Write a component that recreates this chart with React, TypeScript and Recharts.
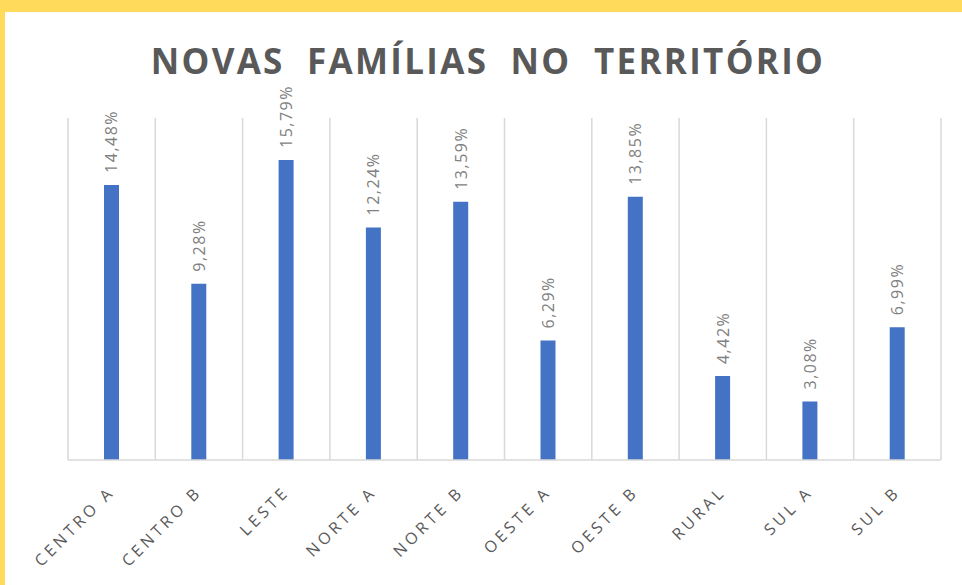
import { BarChart, Bar, XAxis, YAxis, CartesianGrid, LabelList } from "recharts"

// territórios
const territorios = [
  "CENTRO A",
  "CENTRO B",
  "LESTE",
  "NORTE A",
  "NORTE B",
  "OESTE A",
  "OESTE B",
  "RURAL",
  "SUL A",
  "SUL B",
]

// % de novas famílias
const percentuais = [14.48, 9.28, 15.79, 12.24, 13.59, 6.29, 13.85, 4.42, 3.08, 6.99]

const data = territorios.map((nome, i) => ({ nome, valor: percentuais[i] }))

const formatPct = (v: number) => v.toFixed(2).replace(".", ",") + "%"

const FONT = "'Open Sans', 'DejaVu Sans', sans-serif"

// rótulo de valor girado
const ValueLabel = (props: any) => {
  const { x, y, width, value } = props
  const cx = x + width / 2
  const cy = y - 12
  return (
    <text
      x={cx}
      y={cy}
      transform={`rotate(-90, ${cx}, ${cy})`}
      textAnchor="start"
      dominantBaseline="central"
      fill="#7f7f7f"
      fontSize={16}
      letterSpacing={1.5}
      fontFamily={FONT}
    >
      {formatPct(value)}
    </text>
  )
}

// categoria inclinada
const CategoryTick = (props: any) => {
  const { x, y, payload } = props
  return (
    <g transform={`translate(${x + 4},${y + 25})`}>
      <text
        textAnchor="end"
        transform="rotate(-45)"
        fill="#595959"
        fontSize={16}
        letterSpacing={3.6}
        fontFamily={FONT}
      >
        {payload.value}
      </text>
    </g>
  )
}

export default function App() {
  return (
    <div
      style={{
        position: "fixed",
        left: 0,
        top: 0,
        width: 962,
        height: 585,
        background: "#FFDA5B",
        overflow: "hidden",
      }}
    >
      <div
        style={{
          position: "absolute",
          left: 5,
          top: 12,
          width: 957,
          height: 573,
          background: "#ffffff",
        }}
      >
        <div
          style={{
            position: "absolute",
            left: 0,
            top: 29,
            width: 966,
            textAlign: "center",
            fontFamily: FONT,
            fontWeight: 700,
            fontSize: 35,
            letterSpacing: 2.3,
            wordSpacing: 11,
            color: "#595959",
            lineHeight: "40px",
            whiteSpace: "pre",
          }}
        >
          {"NOVAS FAMÍLIAS NO TERRITÓRIO"}
        </div>
        <BarChart
          width={957}
          height={573}
          data={data}
          margin={{ top: 106, right: 21, bottom: 0, left: 63 }}
          style={{ position: "absolute", left: 0, top: 0 }}
        >
          <CartesianGrid
            horizontal={false}
            stroke="#d9d9d9"
            strokeWidth={1.5}
            verticalCoordinatesGenerator={({ offset }: any) =>
              data.map((_, i) => offset.left + (i * offset.width) / data.length).concat(offset.left + offset.width)
            }
          />
          <XAxis
            dataKey="nome"
            interval={0}
            tickLine={false}
            axisLine={{ stroke: "#d9d9d9", strokeWidth: 1.5 }}
            tick={<CategoryTick />}
            height={125}
          />
          <YAxis hide domain={[0, 18]} />
          <Bar dataKey="valor" fill="#4472C4" barSize={15} isAnimationActive={false}>
            <LabelList dataKey="valor" content={<ValueLabel />} />
          </Bar>
        </BarChart>
      </div>
    </div>
  )
}
